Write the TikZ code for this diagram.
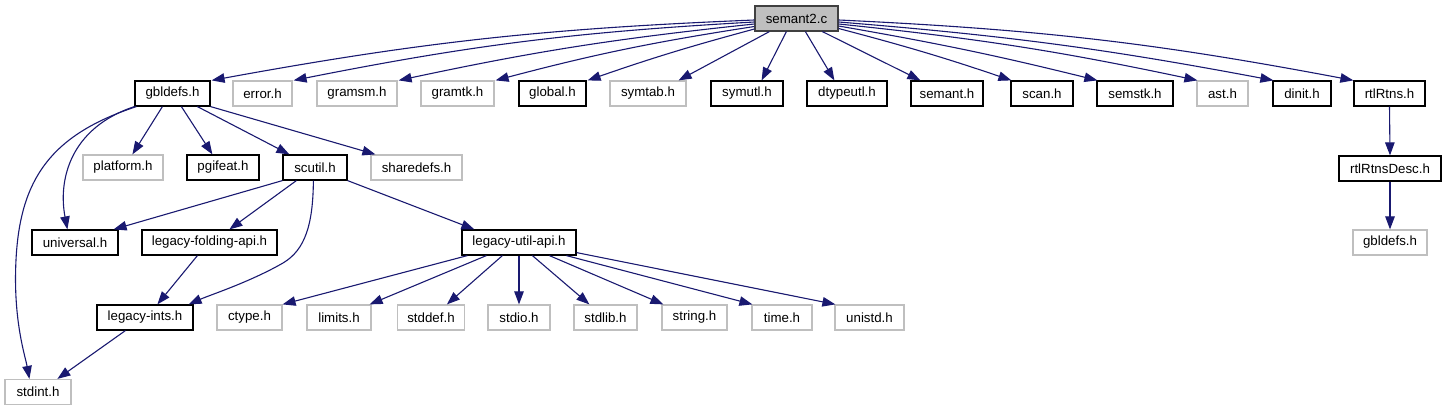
\documentclass[tikz,border=0pt]{standalone}
\usepackage{fontspec}
\setmainfont{Liberation Sans}
\usetikzlibrary{arrows.meta,calc}
\definecolor{edgec}{HTML}{191970}
\definecolor{gborder}{HTML}{BFBFBF}
\definecolor{mainfill}{HTML}{BFBFBF}
\definecolor{mainborder}{HTML}{404040}
\begin{document}
\begin{tikzpicture}[x=1pt,y=-1pt,
  box/.style={draw=black,line width=1.2pt,minimum height=25pt,inner sep=0pt,
    font=\fontsize{13.3}{16}\selectfont,text=black},
  gbox/.style={box,draw=gborder},
  mainbox/.style={box,draw=mainborder,fill=mainfill},
  edge/.style={draw=edgec,line width=1.1pt,-{Triangle[length=13pt,width=9.5pt]}}]
\useasboundingbox (0,0) rectangle (1446,411);
% row 0
\node[mainbox,minimum width=83pt] (s) at (796.5,18.5) {semant2.c};
% row 1
\node[box,minimum width=75pt] (gbldefs) at (172.5,93.5) {gbldefs.h};
\node[gbox,minimum width=59pt] (error) at (262.5,93.5) {error.h};
\node[gbox,minimum width=80pt] (gramsm) at (357,93.5) {gramsm.h};
\node[gbox,minimum width=73pt] (gramtk) at (457.5,93.5) {gramtk.h};
\node[box,minimum width=67pt] (global) at (552.5,93.5) {global.h};
\node[gbox,minimum width=76pt] (symtab) at (648,93.5) {symtab.h};
\node[box,minimum width=72pt] (symutl) at (747,93.5) {symutl.h};
\node[box,minimum width=80pt] (dtypeutl) at (847,93.5) {dtypeutl.h};
\node[box,minimum width=72pt] (semant) at (947,93.5) {semant.h};
\node[box,minimum width=62pt] (scan) at (1042,93.5) {scan.h};
\node[box,minimum width=76pt] (semstk) at (1135,93.5) {semstk.h};
\node[gbox,minimum width=51pt] (ast) at (1222.5,93.5) {ast.h};
\node[box,minimum width=58pt] (dinit) at (1302,93.5) {dinit.h};
\node[box,minimum width=71pt] (rtl) at (1389.5,93.5) {rtlRtns.h};
% row 2
\node[gbox,minimum width=80pt] (platform) at (123,167.5) {platform.h};
\node[box,minimum width=72pt] (pgifeat) at (223,167.5) {pgifeat.h};
\node[box,minimum width=64pt] (scutil) at (315,167.5) {scutil.h};
\node[gbox,minimum width=91pt] (sharedefs) at (416.5,167.5) {sharedefs.h};
\node[box,minimum width=102pt] (rtldesc) at (1390,168.5) {rtlRtnsDesc.h};
% row 3
\node[box,minimum width=86pt] (universal) at (75,242.5) {universal.h};
\node[box,minimum width=135pt] (legfold) at (209.5,242.5) {legacy-folding-api.h};
\node[box,minimum width=114pt] (legutil) at (519,242.5) {legacy-util-api.h};
\node[gbox,minimum width=74pt] (gbldefs2) at (1390,242.5) {gbldefs.h};
% row 4
\node[box,minimum width=96pt] (legints) at (145,317.5) {legacy-ints.h};
\node[gbox,minimum width=65pt] (ctype) at (249.5,317.5) {ctype.h};
\node[gbox,minimum width=64pt] (limits) at (339,317.5) {limits.h};
\node[gbox,minimum width=67pt] (stddef) at (431,317.5) {stddef.h};
\node[gbox,minimum width=62pt] (stdio) at (519,317.5) {stdio.h};
\node[gbox,minimum width=63pt] (stdlib) at (605.5,317.5) {stdlib.h};
\node[gbox,minimum width=65pt] (string) at (694.5,317.5) {string.h};
\node[gbox,minimum width=60pt] (time) at (782,317.5) {time.h};
\node[gbox,minimum width=69pt] (unistd) at (869.5,317.5) {unistd.h};
% row 5
\node[gbox,minimum width=66pt] (stdint) at (38,392) {stdint.h};

% edges from semant2.c
\draw[edge] ($(s.west)+(0,1.5)$) to[bend right=4] ($(gbldefs.north east)+(1,0)$);
\draw[edge] ($(s.west)+(0,3.5)$) to[bend right=4] ($(error.north east)+(1,0)$);
\draw[edge] ($(s.west)+(0,5.5)$) to[bend right=3] ($(gramsm.north east)+(1,0)$);
\draw[edge] ($(s.west)+(0,8)$) to[bend right=3] ($(gramtk.north east)+(1,0)$);
\draw[edge] ($(s.west)+(0,10.5)$) to[bend right=2] ($(global.north east)+(1,0)$);
\draw[edge] ($(s.south west)+(15,0)$) -- ($(symtab.north east)+(-8,0)$);
\draw[edge] ($(s.south west)+(32,0)$) -- ($(symutl.north east)+(-22,0)$);
\draw[edge] ($(s.south west)+(51,0)$) -- ($(dtypeutl.north west)+(28,0)$);
\draw[edge] ($(s.south west)+(68,0)$) -- ($(semant.north west)+(10,0)$);
\draw[edge] ($(s.east)+(0,10)$) to[bend left=2] ($(scan.north west)+(1,0)$);
\draw[edge] ($(s.east)+(0,7.5)$) to[bend left=2] ($(semstk.north west)+(1,0)$);
\draw[edge] ($(s.east)+(0,5.5)$) to[bend left=3] ($(ast.north west)+(1,0)$);
\draw[edge] ($(s.east)+(0,3.5)$) to[bend left=3] ($(dinit.north west)+(1,0)$);
\draw[edge] ($(s.east)+(0,1.5)$) to[bend left=4] ($(rtl.north west)+(0,0)$);

% gbldefs.h
\draw[edge] ($(gbldefs.south west)+(28,0)$) -- ($(platform.north west)+(50,0)$);
\draw[edge] ($(gbldefs.south west)+(47,0)$) -- ($(pgifeat.north west)+(26,0)$);
\draw[edge] ($(gbldefs.south west)+(63,0)$) -- ($(scutil.north west)+(7,0)$);
\draw[edge] (gbldefs.south east) -- ($(sharedefs.north west)+(5,0)$);
\draw[edge] (gbldefs.south west) .. controls (70,128) and (58,180) .. ($(universal.north west)+(36,0)$);
\coordinate (sv) at (16,260);
\draw[edge] ($(gbldefs.south west)+(2,0)$) .. controls (50,135) and (20,180) .. (sv)
  .. controls (13,320) and (25,355) .. ($(stdint.north west)+(25,0)$);

% scutil.h
\draw[edge] (scutil.south west) -- ($(universal.north east)+(-5,0)$);
\draw[edge] ($(scutil.south west)+(14,0)$) -- ($(legfold.north west)+(88,0)$);
\coordinate (sb) at (283,263);
\draw[edge] ($(scutil.south west)+(31,0)$) .. controls (313,225) and (305,250) .. (sb)
  .. controls (250,282) and (210,295) .. ($(legints.north east)+(-5,0)$);
\draw[edge] (scutil.south east) -- ($(legutil.north west)+(13,0)$);

% legacy chains
\draw[edge] ($(legfold.south west)+(56,0)$) -- ($(legints.north west)+(61,0)$);
\draw[edge] ($(legints.south west)+(29,0)$) -- ($(stdint.north west)+(53,0)$);

% legacy-util-api.h
\draw[edge] ($(legutil.south west)+(6,0)$) -- (ctype.north east);
\draw[edge] ($(legutil.south west)+(25,0)$) -- ($(limits.north east)+(-2,0)$);
\draw[edge] ($(legutil.south west)+(41,0)$) -- ($(stddef.north west)+(50,0)$);
\draw[edge] (legutil.south) -- (stdio.north);
\draw[edge] ($(legutil.south west)+(71,0)$) -- ($(stdlib.north west)+(16,0)$);
\draw[edge] ($(legutil.south west)+(88,0)$) -- ($(string.north west)+(2,0)$);
\draw[edge] ($(legutil.south west)+(105,0)$) -- ($(time.north west)+(1,0)$);
\draw[edge] ($(legutil.south east)+(0,-3)$) -- ($(unistd.north west)+(1,0)$);

% rtlRtns
\draw[edge] (rtl.south) -- (rtldesc.north);
\draw[edge] (rtldesc.south) -- (gbldefs2.north);
\end{tikzpicture}
\end{document}
